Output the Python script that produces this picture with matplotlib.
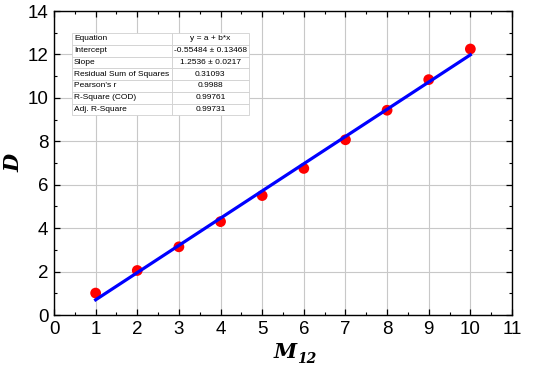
import matplotlib
matplotlib.use("Agg")
import matplotlib.pyplot as plt
import numpy as np
from matplotlib.ticker import MultipleLocator

x = [1, 2, 3, 4, 5, 6, 7, 8, 9, 10]
d = [1.01, 2.05, 3.14, 4.30, 5.50, 6.75, 8.07, 9.43, 10.84, 12.25]
intercept = -0.55484
slope = 1.2536

table_rows = [
    ["Equation", "y = a + b*x"],
    ["Intercept", "-0.55484 \u00b1 0.13468"],
    ["Slope", "1.2536 \u00b1 0.0217"],
    ["Residual Sum of Squares", "0.31093"],
    ["Pearson's r", "0.9988"],
    ["R-Square (COD)", "0.99761"],
    ["Adj. R-Square", "0.99731"],
]

plt.rcParams['font.family'] = ['Liberation Sans', 'DejaVu Sans']

fig = plt.figure(figsize=(5.5, 3.67), dpi=100)
ax = fig.add_axes([54/550, 1-315/367, (512-54)/550, (315-11)/367])

ax.set_xlim(0, 11)
ax.set_ylim(0, 14)
ax.xaxis.set_major_locator(MultipleLocator(1))
ax.xaxis.set_minor_locator(MultipleLocator(0.5))
ax.yaxis.set_major_locator(MultipleLocator(2))
ax.yaxis.set_minor_locator(MultipleLocator(1))
ax.grid(True, which='major', color='#c8c8c8', linewidth=0.8)
ax.set_axisbelow(True)
ax.tick_params(which='both', direction='in', top=True, right=True, labelsize=13.5, pad=4)
ax.tick_params(which='major', length=4, width=0.9)
ax.tick_params(which='minor', length=2.5, width=0.8)
for s in ax.spines.values():
    s.set_linewidth(1.0)

xs = np.array(x, dtype=float)
ax.scatter(xs, d, s=60, color='#ff0000', zorder=3, edgecolors='none')
xf = np.array([xs.min(), xs.max()])
ax.plot(xf, intercept + slope * xf, color='#0000ff', linewidth=2.3, zorder=4)

ax.text(0.53, -0.14, 'M', transform=ax.transAxes, ha='right', va='baseline',
        fontsize=15, family='DejaVu Serif', fontweight='bold', fontstyle='italic')
ax.text(0.53, -0.158, '12', transform=ax.transAxes, ha='left', va='baseline',
        fontsize=10, family='DejaVu Serif', fontweight='bold', fontstyle='italic')
ax.set_ylabel('D', fontsize=15, family='DejaVu Serif', fontweight='bold', fontstyle='italic', labelpad=3)

tbl = ax.table(cellText=table_rows, cellLoc='left', colWidths=[0.565, 0.435],
               bbox=[0.43/11, 9.19/14, (4.68-0.43)/11, (12.99-9.19)/14])
tbl.auto_set_font_size(False)
for (r, c), cell in tbl.get_celld().items():
    cell.set_edgecolor('#d0d0d0')
    cell.set_linewidth(0.6)
    cell.set_facecolor('white')
    cell.get_text().set_fontsize(6.0)
    cell.PAD = 0.02
    if c == 1:
        cell.get_text().set_ha('center')
        cell._loc = 'center'
tbl.set_zorder(5)

fig.savefig('out.png', dpi=100)
